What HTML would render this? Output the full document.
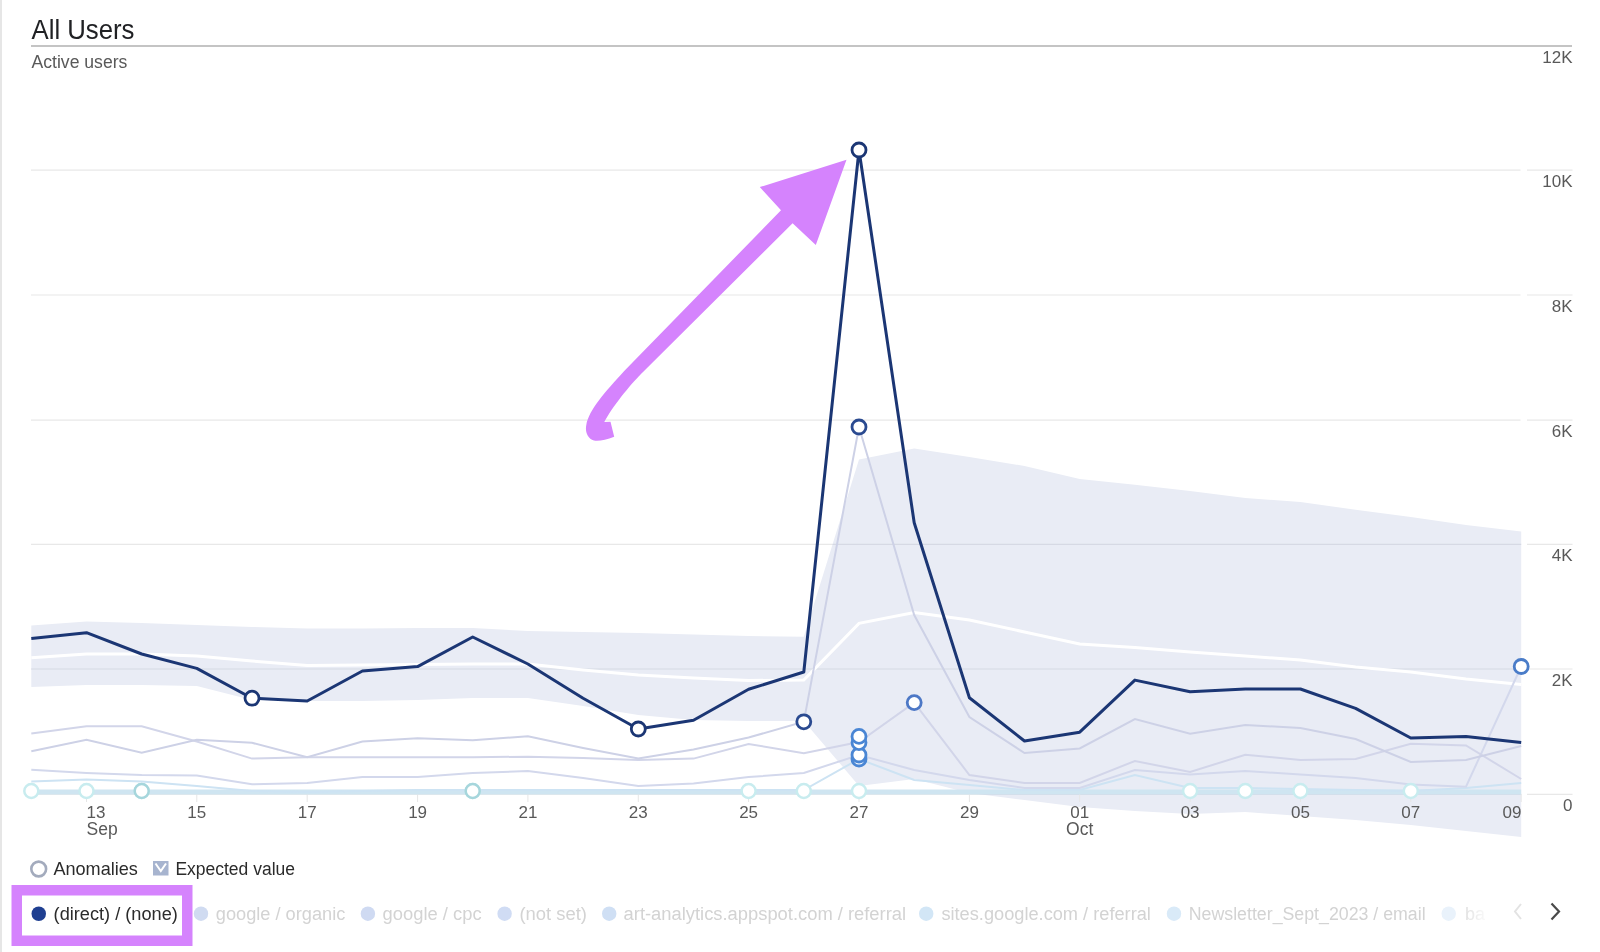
<!DOCTYPE html>
<html><head><meta charset="utf-8"><style>
html,body{margin:0;padding:0;background:#fff;width:1600px;height:952px;overflow:hidden}
svg{display:block;font-family:"Liberation Sans",sans-serif;will-change:transform}
</style></head><body>
<svg width="1600" height="952" viewBox="0 0 1600 952">
<rect x="0" y="0" width="2" height="952" fill="#e6e6e6"/>
<line x1="31" y1="170.2" x2="1520.5" y2="170.2" stroke="#e8e8e8" stroke-width="1.2"/>
<line x1="1527" y1="170.2" x2="1572.5" y2="170.2" stroke="#e8e8e8" stroke-width="1.2"/>
<line x1="31" y1="295" x2="1520.5" y2="295" stroke="#e8e8e8" stroke-width="1.2"/>
<line x1="1527" y1="295" x2="1572.5" y2="295" stroke="#e8e8e8" stroke-width="1.2"/>
<line x1="31" y1="420.2" x2="1520.5" y2="420.2" stroke="#e8e8e8" stroke-width="1.2"/>
<line x1="1527" y1="420.2" x2="1572.5" y2="420.2" stroke="#e8e8e8" stroke-width="1.2"/>
<line x1="31" y1="544.3" x2="1520.5" y2="544.3" stroke="#e8e8e8" stroke-width="1.2"/>
<line x1="1527" y1="544.3" x2="1572.5" y2="544.3" stroke="#e8e8e8" stroke-width="1.2"/>
<line x1="31" y1="669" x2="1520.5" y2="669" stroke="#e8e8e8" stroke-width="1.2"/>
<line x1="1527" y1="669" x2="1572.5" y2="669" stroke="#e8e8e8" stroke-width="1.2"/>
<line x1="31" y1="794.3" x2="1520.5" y2="794.3" stroke="#e8e8e8" stroke-width="1.2"/>
<line x1="1527" y1="794.3" x2="1572.5" y2="794.3" stroke="#e8e8e8" stroke-width="1.2"/>
<defs><clipPath id="bc"><polygon points="31.3,625.4 86.5,621.4 141.7,623.0 196.8,625.0 252.0,627.0 307.2,628.5 362.4,628.5 417.6,628.0 472.7,628.0 527.9,631.0 583.1,632.0 638.3,633.0 693.5,634.5 748.6,636.0 803.8,636.8 859.0,459.4 914.2,448.4 969.4,457.0 1024.5,466.0 1079.7,479.0 1134.9,484.7 1190.1,491.0 1245.3,498.0 1300.4,502.0 1355.6,509.7 1410.8,517.0 1466.0,525.0 1521.2,531.5 1521.2,837.0 1466.0,831.0 1410.8,825.0 1355.6,820.0 1300.4,816.0 1245.3,812.0 1190.1,814.0 1134.9,811.0 1079.7,807.0 1024.5,800.0 969.4,793.0 914.2,779.0 859.0,786.0 803.8,721.0 748.6,721.0 693.5,720.0 638.3,715.0 583.1,706.0 527.9,698.0 472.7,698.0 417.6,700.0 362.4,701.0 307.2,701.0 252.0,700.0 196.8,686.0 141.7,685.0 86.5,685.0 31.3,687.0"/></clipPath></defs>
<polygon points="31.3,625.4 86.5,621.4 141.7,623.0 196.8,625.0 252.0,627.0 307.2,628.5 362.4,628.5 417.6,628.0 472.7,628.0 527.9,631.0 583.1,632.0 638.3,633.0 693.5,634.5 748.6,636.0 803.8,636.8 859.0,459.4 914.2,448.4 969.4,457.0 1024.5,466.0 1079.7,479.0 1134.9,484.7 1190.1,491.0 1245.3,498.0 1300.4,502.0 1355.6,509.7 1410.8,517.0 1466.0,525.0 1521.2,531.5 1521.2,837.0 1466.0,831.0 1410.8,825.0 1355.6,820.0 1300.4,816.0 1245.3,812.0 1190.1,814.0 1134.9,811.0 1079.7,807.0 1024.5,800.0 969.4,793.0 914.2,779.0 859.0,786.0 803.8,721.0 748.6,721.0 693.5,720.0 638.3,715.0 583.1,706.0 527.9,698.0 472.7,698.0 417.6,700.0 362.4,701.0 307.2,701.0 252.0,700.0 196.8,686.0 141.7,685.0 86.5,685.0 31.3,687.0" fill="#e9ecf5"/>
<line x1="31" y1="170.2" x2="1522" y2="170.2" stroke="#d6d9e4" stroke-width="1.2" clip-path="url(#bc)"/>
<line x1="31" y1="295" x2="1522" y2="295" stroke="#d6d9e4" stroke-width="1.2" clip-path="url(#bc)"/>
<line x1="31" y1="420.2" x2="1522" y2="420.2" stroke="#d6d9e4" stroke-width="1.2" clip-path="url(#bc)"/>
<line x1="31" y1="544.3" x2="1522" y2="544.3" stroke="#d6d9e4" stroke-width="1.2" clip-path="url(#bc)"/>
<line x1="31" y1="669" x2="1522" y2="669" stroke="#d6d9e4" stroke-width="1.2" clip-path="url(#bc)"/>
<line x1="31" y1="794.3" x2="1522" y2="794.3" stroke="#d6d9e4" stroke-width="1.2" clip-path="url(#bc)"/>
<line x1="86.5" y1="794" x2="86.5" y2="802" stroke="#e6e6e6" stroke-width="1"/>
<line x1="196.8" y1="794" x2="196.8" y2="802" stroke="#e6e6e6" stroke-width="1"/>
<line x1="307.2" y1="794" x2="307.2" y2="802" stroke="#e6e6e6" stroke-width="1"/>
<line x1="417.6" y1="794" x2="417.6" y2="802" stroke="#e6e6e6" stroke-width="1"/>
<line x1="527.9" y1="794" x2="527.9" y2="802" stroke="#e6e6e6" stroke-width="1"/>
<line x1="638.3" y1="794" x2="638.3" y2="802" stroke="#e6e6e6" stroke-width="1"/>
<line x1="748.6" y1="794" x2="748.6" y2="802" stroke="#e6e6e6" stroke-width="1"/>
<line x1="859.0" y1="794" x2="859.0" y2="802" stroke="#e6e6e6" stroke-width="1"/>
<line x1="969.4" y1="794" x2="969.4" y2="802" stroke="#e6e6e6" stroke-width="1"/>
<line x1="1079.7" y1="794" x2="1079.7" y2="802" stroke="#e6e6e6" stroke-width="1"/>
<line x1="1190.1" y1="794" x2="1190.1" y2="802" stroke="#e6e6e6" stroke-width="1"/>
<line x1="1300.4" y1="794" x2="1300.4" y2="802" stroke="#e6e6e6" stroke-width="1"/>
<line x1="1410.8" y1="794" x2="1410.8" y2="802" stroke="#e6e6e6" stroke-width="1"/>
<line x1="1521.2" y1="794" x2="1521.2" y2="802" stroke="#e6e6e6" stroke-width="1"/>
<polyline points="31.3,657.8 86.5,654.0 141.7,654.0 196.8,656.0 252.0,661.0 307.2,665.5 362.4,665.0 417.6,664.6 472.7,664.0 527.9,664.0 583.1,670.0 638.3,675.0 693.5,678.0 748.6,680.5 803.8,680.0 859.0,623.4 914.2,612.5 969.4,620.0 1024.5,632.0 1079.7,644.0 1134.9,647.5 1190.1,652.0 1245.3,656.0 1300.4,660.0 1355.6,667.0 1410.8,672.0 1466.0,679.0 1521.2,684.5" fill="none" stroke="#ffffff" stroke-width="3"/>
<polyline points="31.3,792.0 86.5,792.0 141.7,792.0 196.8,792.0 252.0,792.0 307.2,792.0 362.4,792.0 417.6,792.0 472.7,792.0 527.9,792.0 583.1,792.0 638.3,792.0 693.5,792.0 748.6,792.0 803.8,792.0 859.0,792.0 914.2,792.0 969.4,792.0 1024.5,792.0 1079.7,792.0 1134.9,792.0 1190.1,792.0 1245.3,792.0 1300.4,792.0 1355.6,792.0 1410.8,792.0 1466.0,792.0 1521.2,792.0" fill="none" stroke="#cfe5f1" stroke-width="5"/>
<polyline points="31.3,781.4 86.5,779.6 141.7,781.4 196.8,786.0 252.0,791.0 307.2,792.0 362.4,791.0 417.6,790.0 472.7,790.0 527.9,790.0 583.1,790.0 638.3,790.0 693.5,790.0 748.6,790.0 803.8,790.0 859.0,759.0 914.2,780.0 969.4,785.0 1024.5,790.0 1079.7,790.0 1134.9,775.0 1190.1,788.0 1245.3,788.0 1300.4,789.0 1355.6,790.0 1410.8,791.0 1466.0,788.0 1521.2,783.0" fill="none" stroke="#cde3f3" stroke-width="2"/>
<polyline points="31.3,769.8 86.5,773.0 141.7,775.0 196.8,775.6 252.0,784.3 307.2,783.0 362.4,777.0 417.6,777.0 472.7,773.0 527.9,771.0 583.1,778.0 638.3,786.0 693.5,783.5 748.6,777.0 803.8,773.0 859.0,755.0 914.2,770.0 969.4,780.0 1024.5,788.0 1079.7,788.0 1134.9,770.0 1190.1,774.6 1245.3,771.0 1300.4,774.5 1355.6,778.0 1410.8,784.5 1466.0,786.7 1521.2,666.5" fill="none" stroke="#d3d8ec" stroke-width="2"/>
<polyline points="31.3,733.6 86.5,726.3 141.7,726.3 196.8,741.5 252.0,758.6 307.2,757.2 362.4,757.2 417.6,757.2 472.7,757.2 527.9,756.7 583.1,758.0 638.3,760.0 693.5,758.6 748.6,744.0 803.8,753.3 859.0,742.0 914.2,702.6 969.4,775.0 1024.5,783.0 1079.7,783.0 1134.9,761.0 1190.1,772.0 1245.3,754.7 1300.4,760.0 1355.6,759.0 1410.8,743.7 1466.0,745.4 1521.2,779.0" fill="none" stroke="#d2d5e9" stroke-width="2"/>
<polyline points="31.3,751.2 86.5,739.7 141.7,752.8 196.8,739.7 252.0,742.8 307.2,757.2 362.4,741.5 417.6,738.3 472.7,740.2 527.9,736.2 583.1,748.0 638.3,758.6 693.5,749.4 748.6,737.5 803.8,721.8 859.0,427.0 914.2,615.0 969.4,717.0 1024.5,753.0 1079.7,748.5 1134.9,719.0 1190.1,733.8 1245.3,725.0 1300.4,728.0 1355.6,739.0 1410.8,762.0 1466.0,760.0 1521.2,746.0" fill="none" stroke="#cdd1e6" stroke-width="2"/>
<polyline points="31.3,638.6 86.5,632.7 141.7,654.0 196.8,668.4 252.0,698.2 307.2,701.0 362.4,671.0 417.6,666.6 472.7,637.0 527.9,664.0 583.1,698.2 638.3,729.0 693.5,720.3 748.6,689.3 803.8,672.0 859.0,150.0 914.2,522.7 969.4,697.8 1024.5,741.0 1079.7,732.2 1134.9,680.1 1190.1,691.8 1245.3,689.0 1300.4,689.0 1355.6,708.4 1410.8,738.0 1466.0,736.6 1521.2,742.6" fill="none" stroke="#1b3674" stroke-width="3" stroke-linejoin="round"/>
<circle cx="31.3" cy="791" r="7" fill="#ffffff" stroke="#c8ecef" stroke-width="2.5"/>
<circle cx="86.5" cy="791" r="7" fill="#ffffff" stroke="#c8ecef" stroke-width="2.5"/>
<circle cx="141.7" cy="791" r="7" fill="#ffffff" stroke="#c8ecef" stroke-width="2.5"/>
<circle cx="472.7" cy="791" r="7" fill="#ffffff" stroke="#c8ecef" stroke-width="2.5"/>
<circle cx="748.6" cy="791" r="7" fill="#ffffff" stroke="#c8ecef" stroke-width="2.5"/>
<circle cx="803.8" cy="791" r="7" fill="#ffffff" stroke="#c8ecef" stroke-width="2.5"/>
<circle cx="859.0" cy="791" r="7" fill="#ffffff" stroke="#c8ecef" stroke-width="2.5"/>
<circle cx="1190.1" cy="791" r="7" fill="#ffffff" stroke="#c8ecef" stroke-width="2.5"/>
<circle cx="1245.3" cy="791" r="7" fill="#ffffff" stroke="#c8ecef" stroke-width="2.5"/>
<circle cx="1300.4" cy="791" r="7" fill="#ffffff" stroke="#c8ecef" stroke-width="2.5"/>
<circle cx="1410.8" cy="791" r="7" fill="#ffffff" stroke="#c8ecef" stroke-width="2.5"/>
<circle cx="141.7" cy="791" r="7" fill="#ffffff" stroke="#a6d6dc" stroke-width="2.5"/>
<circle cx="472.7" cy="791" r="7" fill="#ffffff" stroke="#a6d6dc" stroke-width="2.5"/>
<circle cx="859.0" cy="759" r="7" fill="#ffffff" stroke="#4a86d4" stroke-width="2.8"/>
<circle cx="859.0" cy="755" r="7" fill="#ffffff" stroke="#4a86d4" stroke-width="2.8"/>
<circle cx="859.0" cy="742.6" r="7" fill="#ffffff" stroke="#4a86d4" stroke-width="2.8"/>
<circle cx="859.0" cy="736.4" r="7" fill="#ffffff" stroke="#4a86d4" stroke-width="2.8"/>
<circle cx="914.2" cy="702.6" r="7" fill="#ffffff" stroke="#4d78c6" stroke-width="2.8"/>
<circle cx="1521.2" cy="666.5" r="7" fill="#ffffff" stroke="#4a7cc8" stroke-width="2.8"/>
<circle cx="803.8" cy="721.8" r="7" fill="#ffffff" stroke="#2a4a90" stroke-width="2.8"/>
<circle cx="859.0" cy="427" r="7" fill="#ffffff" stroke="#2a4a90" stroke-width="2.8"/>
<circle cx="252.0" cy="698.2" r="7" fill="#ffffff" stroke="#1b3674" stroke-width="2.8"/>
<circle cx="638.3" cy="729" r="7" fill="#ffffff" stroke="#1b3674" stroke-width="2.8"/>
<circle cx="859.0" cy="150" r="7" fill="#ffffff" stroke="#1b3674" stroke-width="2.8"/>
<rect x="31" y="45" width="1541" height="2" fill="#c4c4c4"/>
<text x="1572.5" y="63.0" text-anchor="end" font-size="17" fill="#595959">12K</text>
<text x="1572.5" y="187.2" text-anchor="end" font-size="17" fill="#595959">10K</text>
<text x="1572.5" y="312.0" text-anchor="end" font-size="17" fill="#595959">8K</text>
<text x="1572.5" y="437.2" text-anchor="end" font-size="17" fill="#595959">6K</text>
<text x="1572.5" y="561.3" text-anchor="end" font-size="17" fill="#595959">4K</text>
<text x="1572.5" y="686.0" text-anchor="end" font-size="17" fill="#595959">2K</text>
<text x="1572.5" y="811.3" text-anchor="end" font-size="17" fill="#595959">0</text>
<text x="86.5" y="817.5" font-size="17" fill="#595959">13</text>
<text x="86.5" y="835" font-size="17.5" fill="#595959">Sep</text>
<text x="196.8" y="817.5" text-anchor="middle" font-size="17" fill="#595959">15</text>
<text x="307.2" y="817.5" text-anchor="middle" font-size="17" fill="#595959">17</text>
<text x="417.6" y="817.5" text-anchor="middle" font-size="17" fill="#595959">19</text>
<text x="527.9" y="817.5" text-anchor="middle" font-size="17" fill="#595959">21</text>
<text x="638.3" y="817.5" text-anchor="middle" font-size="17" fill="#595959">23</text>
<text x="748.6" y="817.5" text-anchor="middle" font-size="17" fill="#595959">25</text>
<text x="859.0" y="817.5" text-anchor="middle" font-size="17" fill="#595959">27</text>
<text x="969.4" y="817.5" text-anchor="middle" font-size="17" fill="#595959">29</text>
<text x="1079.7" y="817.5" text-anchor="middle" font-size="17" fill="#595959">01</text>
<text x="1079.7" y="835" text-anchor="middle" font-size="17.5" fill="#595959">Oct</text>
<text x="1190.1" y="817.5" text-anchor="middle" font-size="17" fill="#595959">03</text>
<text x="1300.4" y="817.5" text-anchor="middle" font-size="17" fill="#595959">05</text>
<text x="1410.8" y="817.5" text-anchor="middle" font-size="17" fill="#595959">07</text>
<text x="1521.5" y="817.5" text-anchor="end" font-size="17" fill="#595959">09</text>
<text x="31.5" y="39" font-size="27.2" textLength="103" lengthAdjust="spacingAndGlyphs" fill="#202124">All Users</text>
<text x="31.5" y="68" font-size="17.6" fill="#595959">Active users</text>
<path d="M846.5,159.8 L815.8,245.1 L792.6,223.3 L641,373.9 C630,385 612,407 604.3,422.1 L610.5,421.7 L614.2,436.8 C606,440 598,441.5 594,440.5 C587,438.5 585,431 586.3,425 C589,410 605,392 624.2,371.1 L781,210.3 L759.8,187.1 Z" fill="#d583fd"/>
<circle cx="38.7" cy="869" r="7.4" fill="none" stroke="#a3abbd" stroke-width="2.6"/>
<text x="53.4" y="875.4" font-size="17.8" textLength="84.5" lengthAdjust="spacingAndGlyphs" fill="#2b2b2b">Anomalies</text>
<rect x="153" y="861" width="15.5" height="14.5" fill="#a7b4cf"/>
<path d="M155.5,863.5 L160.8,871 L166,863.5" fill="none" stroke="#ffffff" stroke-width="2"/>
<text x="175.4" y="875.4" font-size="17.6" textLength="119.6" lengthAdjust="spacingAndGlyphs" fill="#2b2b2b">Expected value</text>
<rect x="16.75" y="890.25" width="170.5" height="50.5" fill="#ffffff" stroke="#d583fd" stroke-width="10.5"/>
<circle cx="38.75" cy="913.75" r="7.25" fill="#1f3f91"/>
<text x="53.6" y="920" font-size="18" textLength="124.2" lengthAdjust="spacingAndGlyphs" fill="#2b2b2b">(direct) / (none)</text>
<circle cx="201" cy="913.7" r="7.2" fill="#d0dbf1"/>
<text x="215.8" y="920" font-size="18" textLength="129.5" lengthAdjust="spacingAndGlyphs" fill="#d3d3d3">google / organic</text>
<circle cx="367.9" cy="913.7" r="7.2" fill="#cfdaf2"/>
<text x="382.6" y="920" font-size="18" textLength="99" lengthAdjust="spacingAndGlyphs" fill="#d3d3d3">google / cpc</text>
<circle cx="504.6" cy="913.7" r="7.2" fill="#d0dcf4"/>
<text x="519.4" y="920" font-size="18" textLength="67.5" lengthAdjust="spacingAndGlyphs" fill="#d3d3d3">(not set)</text>
<circle cx="609.2" cy="913.7" r="7.2" fill="#cfdff4"/>
<text x="623.6" y="920" font-size="18" textLength="282.5" lengthAdjust="spacingAndGlyphs" fill="#d3d3d3">art-analytics.appspot.com / referral</text>
<circle cx="926.2" cy="913.7" r="7.2" fill="#d2e6f6"/>
<text x="941.4" y="920" font-size="18" textLength="209.5" lengthAdjust="spacingAndGlyphs" fill="#d3d3d3">sites.google.com / referral</text>
<circle cx="1174" cy="913.7" r="7.2" fill="#d9eaf8"/>
<text x="1188.8" y="920" font-size="18" textLength="236.8" lengthAdjust="spacingAndGlyphs" fill="#d3d3d3">Newsletter_Sept_2023 / email</text>
<circle cx="1448.7" cy="913.7" r="7.2" fill="#e9f2fb"/>
<defs><linearGradient id="fade" gradientUnits="userSpaceOnUse" x1="1463" y1="0" x2="1490" y2="0"><stop offset="0" stop-color="#dedede"/><stop offset="1" stop-color="#ffffff"/></linearGradient></defs>
<text x="1465" y="920" font-size="18" fill="url(#fade)">ba</text>
<path d="M1521,904 L1515,911.5 L1521,919" fill="none" stroke="#e3e3e3" stroke-width="2"/>
<path d="M1551.5,903.5 L1559,911.5 L1551.5,919.5" fill="none" stroke="#4a4a4a" stroke-width="2.2"/>
</svg></body></html>
